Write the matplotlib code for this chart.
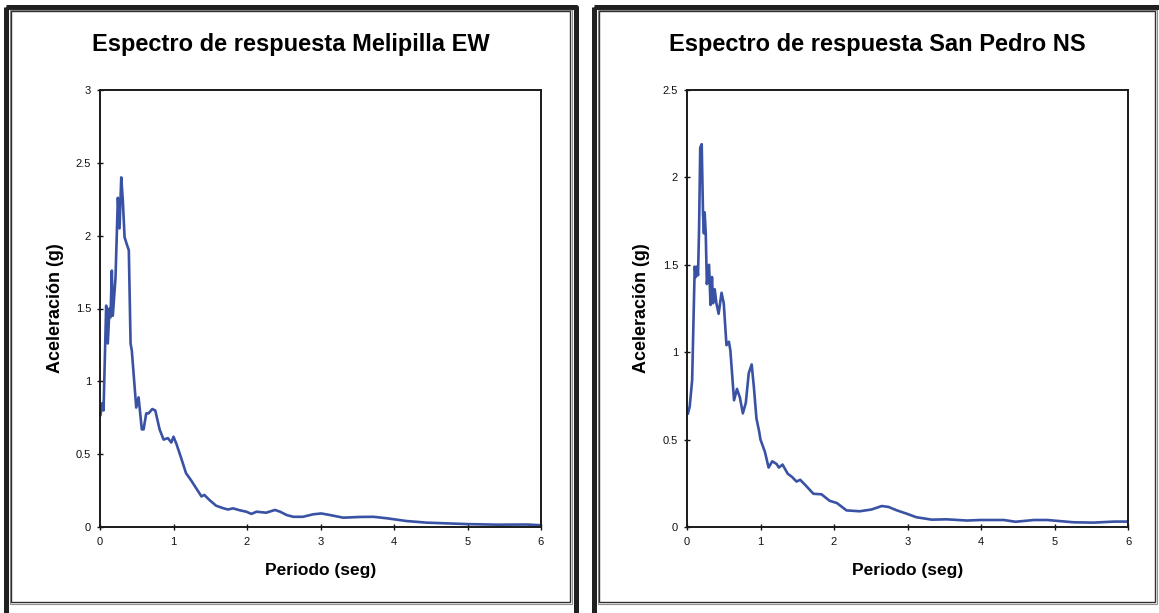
import matplotlib
matplotlib.use("Agg")
import matplotlib.pyplot as plt
from matplotlib.patches import Rectangle

plt.rcParams['font.family'] = ['Liberation Sans', 'DejaVu Sans']

# Melipilla EW
mel_T = [0.007, 0.03, 0.048, 0.084, 0.106, 0.129, 0.143, 0.161, 0.174, 0.211,
         0.243, 0.266, 0.289, 0.311, 0.334, 0.365, 0.392, 0.416, 0.433, 0.493,
         0.525, 0.569, 0.593, 0.629, 0.661, 0.711, 0.752, 0.811, 0.865, 0.924,
         0.970, 1.0, 1.04, 1.10, 1.17, 1.24, 1.31, 1.38, 1.42, 1.49,
         1.58, 1.67, 1.74, 1.81, 1.90, 1.99, 2.06, 2.13, 2.26, 2.38,
         2.45, 2.54, 2.63, 2.76, 2.90, 3.01, 3.13, 3.31, 3.54, 3.72,
         3.90, 4.17, 4.44, 4.72, 4.99, 5.40, 5.81, 6.0]
mel_A = [0.77, 0.85, 0.80, 1.52, 1.26, 1.50, 1.44, 1.76, 1.45, 1.71,
         2.26, 2.05, 2.40, 2.24, 1.99, 1.94, 1.90, 1.26, 1.21, 0.82,
         0.89, 0.67, 0.67, 0.78, 0.78, 0.81, 0.80, 0.67, 0.60, 0.61,
         0.58, 0.62, 0.57, 0.48, 0.37, 0.32, 0.265, 0.21, 0.22, 0.185,
         0.146, 0.13, 0.12, 0.128, 0.115, 0.105, 0.09, 0.105, 0.098, 0.117,
         0.105, 0.082, 0.07, 0.07, 0.087, 0.093, 0.082, 0.064, 0.069, 0.07,
         0.06, 0.041, 0.03, 0.025, 0.02, 0.016, 0.017, 0.012]

# San Pedro NS
sp_T = [0.014, 0.037, 0.07, 0.105, 0.12, 0.136, 0.15, 0.164, 0.18, 0.20,
        0.218, 0.23, 0.24, 0.255, 0.27, 0.30, 0.32, 0.34, 0.355, 0.377,
        0.40, 0.43, 0.47, 0.50, 0.537, 0.57, 0.59, 0.64, 0.68, 0.72,
        0.76, 0.80, 0.84, 0.88, 0.91, 0.945, 0.98, 1.0, 1.06, 1.11,
        1.16, 1.22, 1.25, 1.30, 1.37, 1.43, 1.49, 1.54, 1.61, 1.72,
        1.83, 1.94, 2.04, 2.17, 2.35, 2.51, 2.65, 2.74, 2.85, 2.99,
        3.12, 3.33, 3.53, 3.81, 3.99, 4.31, 4.47, 4.72, 4.9, 5.26,
        5.53, 5.81, 6.0]
sp_A = [0.65, 0.69, 0.84, 1.49, 1.43, 1.49, 1.44, 1.70, 2.17, 2.19,
        1.79, 1.68, 1.80, 1.68, 1.39, 1.50, 1.27, 1.43, 1.28, 1.36,
        1.28, 1.22, 1.34, 1.28, 1.04, 1.06, 1.01, 0.725, 0.79, 0.74,
        0.65, 0.71, 0.88, 0.93, 0.80, 0.62, 0.55, 0.50, 0.43, 0.34,
        0.376, 0.36, 0.34, 0.357, 0.305, 0.286, 0.26, 0.27, 0.24, 0.19,
        0.187, 0.15, 0.137, 0.095, 0.09, 0.10, 0.12, 0.115, 0.096, 0.076,
        0.056, 0.042, 0.044, 0.037, 0.04, 0.04, 0.03, 0.04, 0.04, 0.027,
        0.025, 0.031, 0.031]

titles = ["Espectro de respuesta Melipilla EW", "Espectro de respuesta San Pedro NS"]
x_ticks = [0, 1, 2, 3, 4, 5, 6]
mel_yticks = [0, 0.5, 1, 1.5, 2, 2.5, 3]
sp_yticks = [0, 0.5, 1, 1.5, 2, 2.5]

W, H = 1159, 613
LINE = "#3A52A4"

fig = plt.figure(figsize=(W / 100, H / 100), dpi=100)

# background axes in pixel coords for the double frames
bg = fig.add_axes([0, 0, 1, 1], zorder=0)
bg.set_xlim(0, W)
bg.set_ylim(H, 0)
bg.axis("off")

frames = [(3, 578), (591, 1163)]
for x0, x1 in frames:
    bg.add_patch(Rectangle((x0 + 2.5, 6.5), x1 - x0 - 5, H + 10, fill=False,
                           edgecolor="#202020", lw=3.6, joinstyle="round"))
    bg.add_patch(Rectangle((x0 + 6.5, 9.5), x1 - x0 - 13, H - 19, fill=False,
                           edgecolor="#909090", lw=0.8))
    bg.add_patch(Rectangle((x0 + 8, 11), x1 - x0 - 16, H - 22, fill=False,
                           edgecolor="#303030", lw=1.0))


def draw(left_px, T, A, yticks, title, frame):
    ax = fig.add_axes([left_px / W, (H - 527) / H, 441 / W, 437 / H], zorder=1)
    ax.plot(T, A, color=LINE, lw=1.9, solid_joinstyle="round")
    ax.set_xlim(0, 6)
    ax.set_ylim(0, yticks[-1])
    ax.set_xticks(x_ticks)
    ax.set_xticklabels([str(t) for t in x_ticks])
    ax.set_yticks(yticks)
    ax.set_yticklabels([f"{t:g}" for t in yticks])
    ax.tick_params(direction="inout", length=5, width=1.0, labelsize=8,
                   colors="#111111")
    ax.tick_params(axis="x", pad=5)
    ax.tick_params(axis="y", pad=4)
    for s in ax.spines.values():
        s.set_linewidth(1.4)
        s.set_color("#1a1a1a")
    ax.set_xlabel("Periodo (seg)", fontsize=12.5, fontweight="bold", va="center")
    ax.xaxis.set_label_coords(0.5, (527 - 570) / 437)
    ax.set_ylabel("Aceleración (g)", fontsize=13, fontweight="bold", va="center")
    ax.yaxis.set_label_coords(-45 / 441, 0.5)
    cx = (frame[0] + frame[1]) / 2
    fig.text(cx / W, 1 - 45 / H, title, ha="center", va="center",
             fontsize=17, fontweight="bold")
    return ax


draw(100, mel_T, mel_A, mel_yticks, titles[0], frames[0])
draw(687, sp_T, sp_A, sp_yticks, titles[1], frames[1])

fig.savefig("out.png", dpi=100)
